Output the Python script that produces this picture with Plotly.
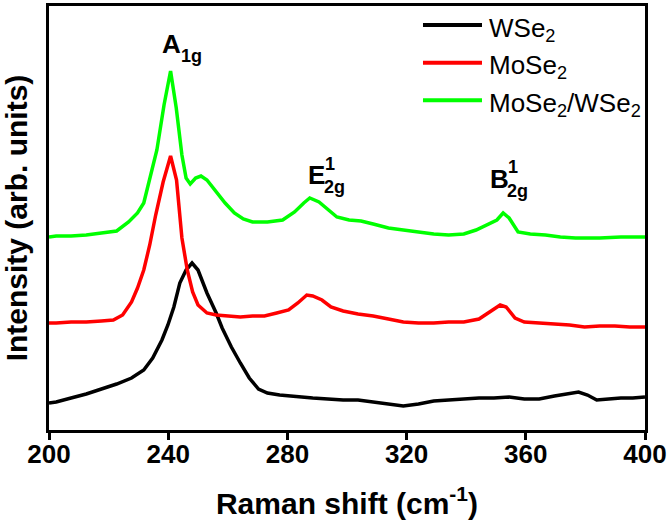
import plotly.graph_objects as go

# ---- data ----
wse2_x = [200, 202.4, 207.4, 212.5, 217.6, 222.7, 227.7, 231.8, 234.8, 237.9, 239.9, 241.9, 243.9, 246.0, 248.0,
          250.0, 253.0, 256.1, 258.1, 261.2, 264.2, 267.2, 270.3, 273.3, 277.4, 283.5, 288.5, 293.6, 298.7,
          303.7, 308.8, 313.9, 318.9, 324.0, 329.1, 334.1, 339.2, 344.3, 349.3, 354.4, 359.5, 364.5, 369.6,
          374.7, 377.7, 380.7, 383.8, 387.8, 391.9, 395.9, 400]
wse2_y = [47, 48, 52, 56, 61, 66, 72, 80, 92, 110, 125, 143, 167, 180, 187,
          180, 157, 137, 122, 103, 87, 72, 61, 57, 55, 53, 52, 51, 50,
          50, 48, 46, 44, 46, 49, 50, 51, 52, 52, 53, 51, 51, 54,
          57, 58, 55, 50, 51, 52, 52, 53]

mose2_x = [200, 202.4, 207.4, 212.5, 217.6, 221.6, 224.7, 227.7, 229.7, 231.8, 233.8, 235.8, 238.3, 240.8, 242.8,
           244.6, 246.4, 248.2, 250.0, 253.0, 256.1, 260.1, 264.2, 268.3, 272.3, 276.4, 280.4, 283.5, 286.5,
           288.5, 291.6, 294.6, 298.7, 303.7, 308.8, 313.9, 318.9, 324.0, 329.1, 334.1, 339.2, 344.3, 347.3,
           351.4, 353.4, 356.4, 359.5, 364.5, 369.6, 374.7, 379.7, 384.8, 389.9, 394.9, 400]
mose2_y = [127, 127, 128, 128, 129, 130, 135, 148, 162, 180, 205, 235, 268, 294, 270,
           212, 180, 158, 145, 137, 135, 134, 133, 134, 134, 137, 140, 147, 155,
           154, 150, 143, 139, 136, 134, 131, 128, 127, 127, 128, 128, 131, 137,
           145, 143, 132, 128, 127, 126, 125, 123, 124, 124, 123, 123]

hetero_x = [200, 202.4, 207.4, 212.5, 217.6, 222.7, 226.7, 229.7, 231.8, 233.8, 236.2, 238.6, 240.8, 242.7, 244.6,
            246.0, 247.4, 249.2, 251.0, 253.0, 256.1, 259.1, 262.2, 265.2, 268.3, 273.3, 278.4, 282.4, 285.5,
            287.5, 290.6, 293.6, 296.6, 300.7, 304.7, 308.8, 313.9, 318.9, 324.0, 329.1, 334.1, 339.2, 343.3,
            347.3, 350.3, 352.4, 354.4, 357.4, 361.5, 366.6, 371.6, 376.7, 384.8, 391.9, 400]
hetero_y = [213, 214, 214, 215, 217, 219, 228, 237, 247, 270, 300, 345, 379, 342, 295,
            272, 266, 272, 274, 270, 258, 247, 237, 231, 228, 228, 230, 238, 247,
            252, 248, 241, 233, 230, 229, 226, 222, 220, 218, 216, 215, 216, 220,
            226, 230, 237, 232, 218, 216, 215, 213, 212, 212, 213, 213]

series_names = ["WSe<sub>2</sub>", "MoSe<sub>2</sub>", "MoSe<sub>2</sub>/WSe<sub>2</sub>"]
series_colors = ["#000000", "#ff0000", "#00ff00"]
x_ticks = [200, 240, 280, 320, 360, 400]

FONT = "Liberation Sans, Arial, Helvetica, sans-serif"

fig = go.Figure()
for xs, ys, name, col in zip([wse2_x, mose2_x, hetero_x], [wse2_y, mose2_y, hetero_y], series_names, series_colors):
    fig.add_trace(go.Scatter(x=xs, y=ys, mode="lines", name=name,
                             line=dict(color=col, width=3.5), showlegend=False))

# manual legend (top right, inside plot)
leg_y = [0.955, 0.866, 0.778]
for name, col, yy in zip(series_names, series_colors, leg_y):
    fig.add_shape(type="line", xref="paper", yref="paper", x0=0.6275, x1=0.7265, y0=yy, y1=yy,
                  line=dict(color=col, width=4))
    fig.add_annotation(xref="paper", yref="paper", x=0.7349, y=yy, xanchor="left", yanchor="middle",
                       yshift=-4, text=name, showarrow=False,
                       font=dict(family=FONT, size=26, color="black"))

# peak labels
ann = [
    ("A", 237.4, 406, 26),
    ("1g", 243.5, 394, 18),
    ("E", 286.2, 275, 26),
    ("1", 291.9, 286, 18),
    ("2g", 291.6, 263, 18),
    ("B", 347.3, 271, 26),
    ("1", 353.4, 283, 18),
    ("2g", 353.0, 259, 18),
]
for t, x, y, s in ann:
    fig.add_annotation(x=x, y=y, text=t, showarrow=False, xanchor="left", yanchor="middle",
                       font=dict(family=FONT, size=s, color="black", weight="bold"))

fig.update_layout(
    width=670, height=529,
    margin=dict(l=49, r=25, t=6, b=99),
    paper_bgcolor="white", plot_bgcolor="white",
    font=dict(family=FONT, color="black"),
)
fig.update_xaxes(range=[200, 400], tickvals=x_ticks, ticktext=[str(v) for v in x_ticks],
                 ticks="outside", ticklen=7, tickwidth=3, tickcolor="black",
                 ticklabelstandoff=-8, automargin=False,
                 showline=True, linewidth=3, linecolor="black", mirror=True,
                 showgrid=False, zeroline=False,
                 tickfont=dict(family=FONT, size=26, color="black", weight="bold"),
                 title=dict(text="Raman shift (cm<sup>-1</sup>)", standoff=25,
                            font=dict(family=FONT, size=30, color="black", weight="bold")))
fig.update_yaxes(range=[20, 444], showticklabels=False, ticks="", automargin=False,
                 showline=True, linewidth=3, linecolor="black", mirror=True,
                 showgrid=False, zeroline=False,
                 title=dict(text="Intensity (arb. units)", standoff=26,
                            font=dict(family=FONT, size=30, color="black", weight="bold")))

fig.write_html("out.html", config={"displayModeBar": False},
               post_script="document.body.style.margin='0';")
